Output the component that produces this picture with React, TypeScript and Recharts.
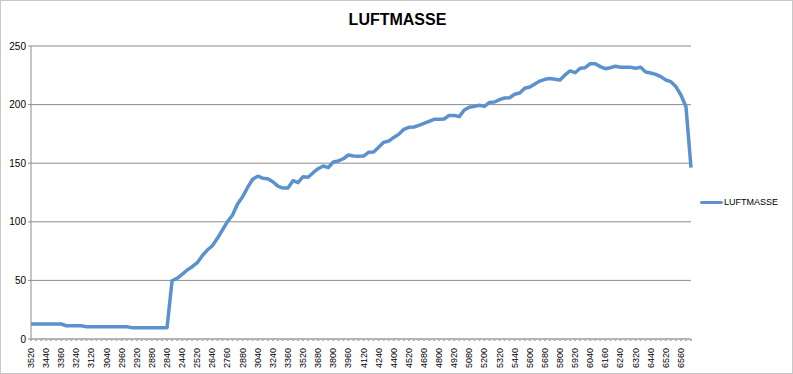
import { LineChart, Line, XAxis, YAxis, CartesianGrid, Legend } from 'recharts';

// engine speed (rpm) per sample, shown every third one on the axis
const rpm = [
  '3520', '3480', '3480', '3440', '3400', '3400', '3360', '3320', '3280', '3240',
  '3200', '3160', '3120', '3080', '3080', '3040', '3000', '3000', '2960', '2960',
  '2920', '2920', '2920', '2880', '2880', '2880', '2840', '2840', '2400', '2400',
  '2440', '2480', '2480', '2520', '2560', '2600', '2640', '2680', '2720', '2760',
  '2800', '2840', '2880', '2920', '2960', '3040', '3080', '3160', '3240', '3280',
  '3320', '3360', '3400', '3480', '3520', '3560', '3640', '3680', '3720', '3760',
  '3800', '3880', '3920', '3960', '4000', '4080', '4120', '4160', '4200', '4240',
  '4280', '4360', '4400', '4440', '4480', '4520', '4600', '4640', '4680', '4720',
  '4760', '4800', '4840', '4880', '4920', '4960', '5040', '5080', '5120', '5160',
  '5200', '5240', '5280', '5320', '5360', '5400', '5440', '5520', '5560', '5600',
  '5640', '5640', '5680', '5720', '5760', '5800', '5840', '5880', '5920', '5960',
  '6000', '6040', '6080', '6120', '6160', '6200', '6200', '6240', '6280', '6280',
  '6320', '6360', '6400', '6440', '6480', '6480', '6520', '6520', '6560', '6560',
  '6560', '6560',
];

const luftmasse = [
  12.8, 12.8, 12.8, 12.8, 12.8, 12.8, 12.8, 11.3, 11.3, 11.3,
  11.3, 10.5, 10.5, 10.5, 10.5, 10.5, 10.5, 10.5, 10.5, 10.5,
  9.7, 9.7, 9.7, 9.7, 9.7, 9.7, 9.7, 9.7, 49.7, 51.8,
  55.2, 58.9, 61.7, 65.1, 71.1, 75.9, 79.6, 85.9, 93.0, 100.1,
  105.8, 115.2, 121.4, 129.4, 136.3, 138.9, 137.2, 136.8, 134.2, 130.5,
  128.8, 128.8, 135.1, 133.4, 138.5, 138.0, 141.9, 145.3, 147.6, 146.2,
  151.0, 151.9, 153.8, 157.0, 156.1, 155.9, 156.1, 159.3, 159.6, 163.6,
  167.8, 168.9, 172.0, 174.6, 178.9, 180.6, 180.9, 182.3, 184.0, 185.7,
  187.4, 187.4, 187.7, 190.8, 190.8, 189.7, 195.4, 197.7, 198.5, 199.4,
  198.5, 201.9, 202.2, 204.2, 205.6, 205.9, 208.8, 209.9, 213.9, 215.0,
  217.6, 220.1, 221.6, 222.2, 221.6, 221.0, 225.3, 228.7, 227.2, 231.0,
  231.5, 234.9, 234.9, 232.4, 230.6, 231.5, 232.7, 231.8, 231.8, 231.8,
  231.0, 231.8, 227.8, 227.0, 225.8, 223.9, 221.0, 219.6, 215.4, 208.2,
  198.2, 146.2,
];

const yTicks = [0, 50, 100, 150, 200, 250];

const data = rpm.map((r, i) => ({ rpm: r, LUFTMASSE: luftmasse[i] }));

const LINE_COLOR = '#5b92cd';
const FONT = '"Liberation Sans", Arial, sans-serif';

function RpmTick(props: any) {
  const { x, y, payload, index } = props;
  if (index % 3 !== 0) return <g />;
  return (
    <text
      x={x + 3}
      y={y + 5}
      transform={`rotate(-90, ${x + 3}, ${y + 5})`}
      textAnchor="end"
      fontSize={9}
      fontFamily={FONT}
      fill="#000"
    >
      {payload.value}
    </text>
  );
}

function LegendContent() {
  return (
    <div style={{ display: 'flex', alignItems: 'center', fontFamily: FONT, fontSize: 9, color: '#000' }}>
      <span style={{ display: 'inline-block', width: 24, height: 3, background: LINE_COLOR, borderRadius: 2 }} />
      <span style={{ marginLeft: 1 }}>LUFTMASSE</span>
    </div>
  );
}

export default function App() {
  return (
    <div style={{ position: 'relative', width: 793, height: 374, background: '#fff', boxSizing: 'border-box', border: '1px solid #c8c8c8' }}>
      <style>{`body { margin: 0; }`}</style>
      <div
        style={{
          position: 'absolute', top: 10, left: 0, width: 793, textAlign: 'center',
          fontFamily: FONT, fontWeight: 'bold', fontSize: 16, color: '#000',
        }}
      >
        LUFTMASSE
      </div>
      <LineChart
        width={791}
        height={372}
        data={data}
        margin={{ top: 45, right: 23, bottom: 4, left: 0 }}
        style={{ position: 'absolute', top: 0, left: 0 }}
      >
        <CartesianGrid vertical={false} stroke="#8c8c8c" strokeWidth={1} />
        <XAxis
          dataKey="rpm"
          interval={0}
          height={30}
          tick={<RpmTick />}
          tickSize={2}
          stroke="#b4b4b4"
          strokeWidth={2}
        />
        <YAxis
          domain={[0, 250]}
          ticks={yTicks}
          width={30}
          tickSize={3}
          stroke="#8c8c8c"
          tick={{ fontSize: 10, fill: '#000', fontFamily: FONT }}
        />
        <Legend
          layout="vertical"
          align="right"
          verticalAlign="middle"
          content={<LegendContent />}
          wrapperStyle={{ right: 14, top: 196, width: 78 }}
        />
        <Line
          type="linear"
          dataKey="LUFTMASSE"
          stroke={LINE_COLOR}
          strokeWidth={3.5}
          dot={false}
          strokeLinejoin="round"
          isAnimationActive={false}
        />
      </LineChart>
    </div>
  );
}
